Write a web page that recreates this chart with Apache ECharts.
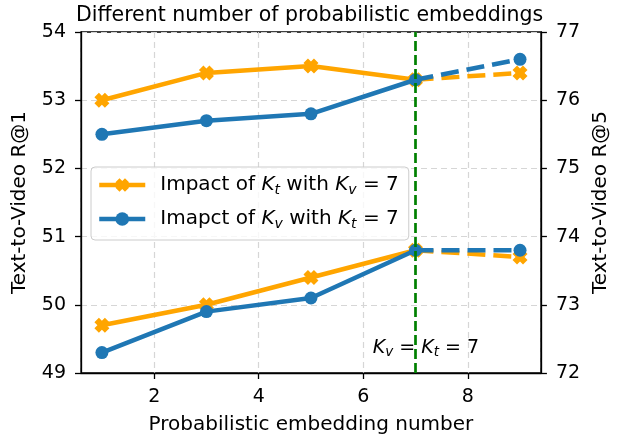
<!DOCTYPE html>
<html>
<head>
<meta charset="utf-8">
<script src="https://cdn.jsdelivr.net/npm/echarts@6/dist/echarts.min.js"></script>
<style>html,body{margin:0;padding:0;background:#fff}#c{width:619px;height:440px}</style>
</head>
<body>
<div id="c"></div>
<script>
// ---- data ----
const xValues = [1, 3, 5, 7, 9];
// "Impact of K_t with K_v = 7" (orange)
const ktR5 = [76.0, 76.4, 76.5, 76.3, 76.4];   // right axis
const ktR1 = [49.7, 50.0, 50.4, 50.8, 50.7];   // left axis
// "Imapct of K_v with K_t = 7" (blue)
const kvR5 = [75.5, 75.7, 75.8, 76.3, 76.6];   // right axis
const kvR1 = [49.3, 49.9, 50.1, 50.8, 50.8];   // left axis
const refX = 7;   // solid up to here, dashed after; vertical marker
const leftTicks = [49, 50, 51, 52, 53, 54];
const rightTicks = [72, 73, 74, 75, 76, 77];

const NAME_T = 'Impact of Kt with Kv = 7';
const NAME_V = 'Imapct of Kv with Kt = 7';
const ORANGE = '#FFA500', BLUE = '#1f77b4';
const FONT = 'DejaVu Sans';
const FS_TITLE = 20.5, FS_TICK = 19, FS_NAME = 20, FS_LEG = 20, FS_ANN = 19;
const XSYM = 'path://M0,3 L3,0 L5,2 L7,0 L10,3 L8,5 L10,7 L7,10 L5,8 L3,10 L0,7 L2,5 Z';

function split(vals) {
  const solid = [], dashed = [];
  xValues.forEach((x, i) => {
    if (x <= refX) solid.push([x, vals[i]]);
    if (x >= refX) dashed.push(x === refX ? {value: [x, vals[i]], symbol: 'none'} : [x, vals[i]]);
  });
  return {solid, dashed};
}
function mk(name, vals, yIdx, color, symbol, size) {
  const s = split(vals);
  const base = {
    name, type: 'line', yAxisIndex: yIdx, symbol, symbolSize: size, showSymbol: true,
    itemStyle: {color, opacity: 1}, animation: false, silent: true, z: color === BLUE ? 4 : 3
  };
  return [
    Object.assign({}, base, {data: s.solid, lineStyle: {color, width: 4.5}}),
    Object.assign({}, base, {data: s.dashed, lineStyle: {color, width: 4.5, type: [18, 8], cap: 'butt'}})
  ];
}

const gridLine = {show: true, lineStyle: {color: '#d6d6d6', width: 1.2, type: [6, 4]}};
const axisLine = {show: true, lineStyle: {color: '#000', width: 1.3}};
const axisTick = {show: true, length: 6, inside: false, lineStyle: {color: '#000', width: 1.3}};
const tickStyle = {fontFamily: FONT, fontSize: FS_TICK, color: '#000'};
const nameStyle = {fontFamily: FONT, fontSize: FS_NAME, color: '#000'};

const series = [].concat(
  mk(NAME_T, ktR5, 1, ORANGE, XSYM, 15),
  mk(NAME_T, ktR1, 0, ORANGE, XSYM, 15),
  mk(NAME_V, kvR5, 1, BLUE, 'circle', 13),
  mk(NAME_V, kvR1, 0, BLUE, 'circle', 13),
  [{
    name: 'ref', type: 'line', data: [], yAxisIndex: 0, silent: true, animation: false, z: 2,
    markLine: {
      silent: true, symbol: ['none', 'none'], animation: false,
      label: {show: false},
      lineStyle: {color: '#008000', width: 2.7, type: [10, 4]},
      data: [{xAxis: refX}]
    },
    markPoint: {
      silent: true, animation: false, symbol: 'circle', symbolSize: 0,
      data: [{coord: [7.2, 49.37]}],
      label: {
        show: true, position: 'inside',
        formatter: '{k|K}{s|v}{n| = }{k|K}{s|t}{n| = 7}',
        rich: {
          k: {fontFamily: FONT, fontStyle: 'italic', fontSize: FS_ANN, color: '#000', lineHeight: 24},
          s: {fontFamily: FONT, fontStyle: 'italic', fontSize: 13.5, color: '#000', lineHeight: 14, verticalAlign: 'bottom'},
          n: {fontFamily: FONT, fontSize: FS_ANN, color: '#000', lineHeight: 24}
        }
      }
    }
  }]
);

const legendRich = {
  p: {fontFamily: FONT, fontSize: FS_LEG, color: '#000', lineHeight: 24, padding: [0, 0, 0, 10]},
  n: {fontFamily: FONT, fontSize: FS_LEG, color: '#000', lineHeight: 24},
  k: {fontFamily: FONT, fontStyle: 'italic', fontSize: FS_LEG, color: '#000', lineHeight: 24},
  s: {fontFamily: FONT, fontStyle: 'italic', fontSize: 14, color: '#000', lineHeight: 14, verticalAlign: 'bottom'}
};

const chart = echarts.init(document.getElementById('c'), null, {renderer: 'canvas'});
chart.setOption({
  backgroundColor: '#fff',
  animation: false,
  title: {
    text: 'Different number of probabilistic embeddings', left: 'center', top: 0,
    textStyle: {fontFamily: FONT, fontSize: FS_TITLE, fontWeight: 'normal', color: '#000'}
  },
  grid: {left: 81, right: 77, top: 32, bottom: 65, show: true, borderColor: '#000', borderWidth: 1.3, backgroundColor: 'transparent'},
  legend: {
    orient: 'vertical', left: 91, top: 167,
    data: [NAME_T, NAME_V],
    itemWidth: 46, itemHeight: 17, itemGap: 12,
    padding: [8, 10, 9, 6],
    borderColor: '#cccccc', borderWidth: 1, borderRadius: 4,
    backgroundColor: 'rgba(255,255,255,0.8)',
    selectedMode: false,
    lineStyle: {width: 4.5},
    formatter: function (name) {
      if (name === NAME_T) return '{p|Impact of }{k|K}{s|t}{n| with }{k|K}{s|v}{n| = 7}';
      return '{p|Imapct of }{k|K}{s|v}{n| with }{k|K}{s|t}{n| = 7}';
    },
    textStyle: {rich: legendRich}
  },
  xAxis: {
    type: 'value', min: 0.6, max: 9.4,
    name: 'Probabilistic embedding number', nameLocation: 'middle', nameGap: 42,
    nameTextStyle: nameStyle,
    axisLine, axisTick,
    axisLabel: Object.assign({margin: 15, showMinLabel: false, showMaxLabel: false}, tickStyle),
    splitLine: gridLine
  },
  yAxis: [
    {
      type: 'value', min: leftTicks[0], max: leftTicks[leftTicks.length - 1], interval: 1, position: 'left',
      name: 'Text-to-Video R@1', nameLocation: 'middle', nameGap: 51, nameRotate: 90,
      nameTextStyle: nameStyle,
      axisLine, axisTick,
      axisLabel: Object.assign({margin: 15}, tickStyle),
      splitLine: gridLine
    },
    {
      type: 'value', min: rightTicks[0], max: rightTicks[rightTicks.length - 1], interval: 1, position: 'right',
      name: 'Text-to-Video R@5', nameLocation: 'middle', nameGap: 48, nameRotate: 90,
      nameTextStyle: nameStyle,
      axisLine, axisTick,
      axisLabel: Object.assign({margin: 15}, tickStyle),
      splitLine: {show: false}
    }
  ],
  series
});
</script>
</body>
</html>
